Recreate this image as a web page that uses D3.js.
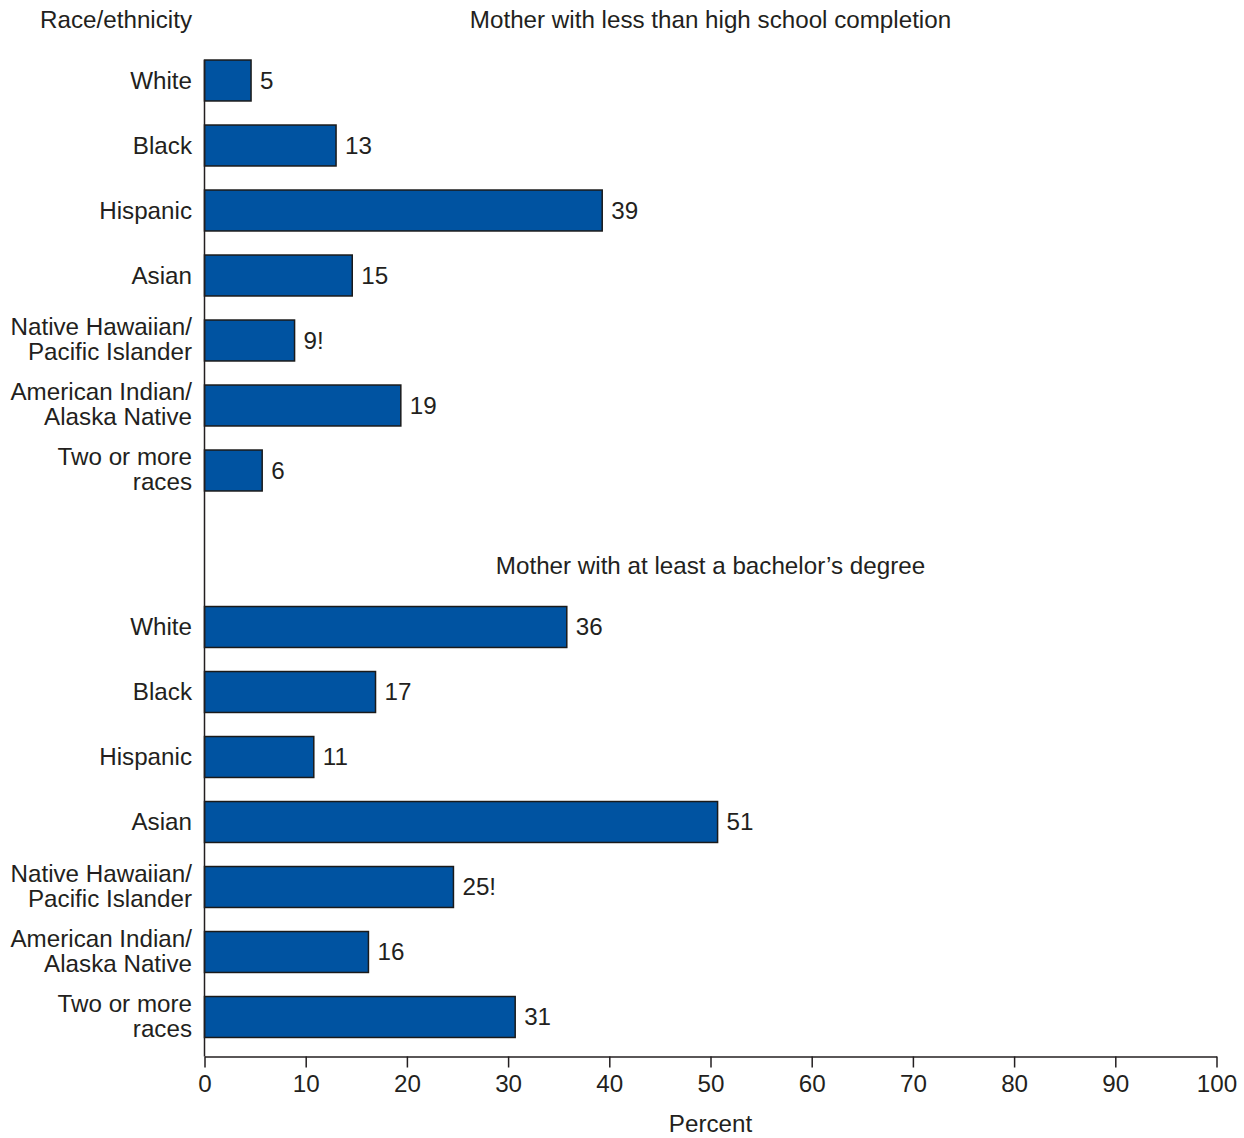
<!DOCTYPE html>
<html><head><meta charset="utf-8">
<script src="https://cdn.jsdelivr.net/npm/d3@7"></script>
<style>body{margin:0;background:#fff}text{font-family:"Liberation Sans",Arial,sans-serif;fill:#231f20}</style>
</head><body>
<script>
const categories = [["White"],["Black"],["Hispanic"],["Asian"],["Native Hawaiian/","Pacific Islander"],["American Indian/","Alaska Native"],["Two or more","races"]];
const panelTitles = ["Mother with less than high school completion","Mother with at least a bachelor\u2019s degree"];
const lessThanHS = [4.6,13.0,39.3,14.6,8.9,19.4,5.7];
const lessThanHSLabels = ["5","13","39","15","9!","19","6"];
const bachelors = [35.8,16.9,10.8,50.7,24.6,16.2,30.7];
const bachelorsLabels = ["36","17","11","51","25!","16","31"];
const xTicks = [0,10,20,30,40,50,60,70,80,90,100];

const W=1244,H=1138, FS=24.2;
const svg=d3.select("body").append("svg").attr("width",W).attr("height",H);
const x=d3.scaleLinear().domain([0,100]).range([204.5,1216.5]);
const axisY=1056.5;

svg.append("text").attr("x",192).attr("y",28).attr("text-anchor","end").attr("font-size",FS).text("Race/ethnicity");

const panels=[{vals:lessThanHS,labs:lessThanHSLabels,y0:48,title:panelTitles[0],ty:28},
              {vals:bachelors,labs:bachelorsLabels,y0:594.5,title:panelTitles[1],ty:574}];
const keys=categories.map((c,i)=>i);
panels.forEach(p=>{
  const y=d3.scaleBand().domain(keys).range([p.y0,p.y0+7*65]).paddingInner(0.37).paddingOuter(0.185);
  svg.append("text").attr("x",(x(0)+x(100))/2).attr("y",p.ty).attr("text-anchor","middle").attr("font-size",FS).text(p.title);
  const g=svg.append("g");
  g.selectAll("rect").data(p.vals).join("rect")
    .attr("x",x(0)).attr("y",(d,i)=>y(i)).attr("width",d=>x(d)-x(0)).attr("height",y.bandwidth())
    .attr("fill","#0053a1").attr("stroke","#1a1a1a").attr("stroke-width",1.5);
  g.selectAll("text.v").data(p.vals).join("text").attr("class","v")
    .attr("x",d=>x(d)+9).attr("y",(d,i)=>y(i)+y.bandwidth()/2).attr("dy","0.34em")
    .attr("font-size",FS).text((d,i)=>p.labs[i]);
  g.selectAll("text.c").data(categories).join("text").attr("class","c")
    .attr("text-anchor","end").attr("font-size",FS)
    .each(function(c,i){
      const t=d3.select(this); const cy=y(i)+y.bandwidth()/2;
      c.forEach((line,j)=>{
        t.append("tspan").attr("x",192).attr("y",cy+(j-(c.length-1)/2)*25).attr("dy",c.length>1?"0.3em":"0.35em").text(line);
      });
    });
});

// vertical axis line
svg.append("line").attr("x1",x(0)).attr("x2",x(0)).attr("y1",60).attr("y2",axisY).attr("stroke","#231f20").attr("stroke-width",1.5);
const ax=svg.append("g").attr("transform",`translate(0,${axisY})`)
  .call(d3.axisBottom(x).tickValues(xTicks).tickSize(11).tickPadding(7).tickSizeOuter(0));
ax.select(".domain").attr("stroke","#231f20").attr("stroke-width",1.5);
ax.selectAll(".tick line").attr("stroke","#231f20").attr("stroke-width",1.5);
ax.selectAll(".tick text").attr("font-size",FS).attr("font-family","Liberation Sans, Arial, sans-serif").attr("fill","#231f20");
svg.append("text").attr("x",(x(0)+x(100))/2).attr("y",1132).attr("text-anchor","middle").attr("font-size",FS).text("Percent");
</script>
</body></html>
